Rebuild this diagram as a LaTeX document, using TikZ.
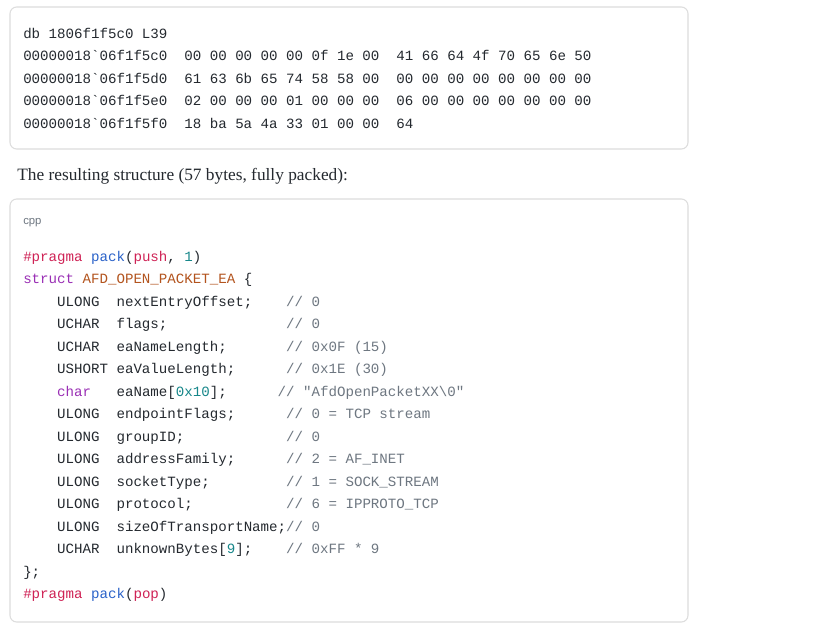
\documentclass[tikz,border=0pt]{standalone}
\usepackage{fontspec}
\setmainfont{Liberation Serif}
\setmonofont{Liberation Mono}
\setsansfont{Liberation Sans}
\definecolor{tx}{HTML}{24292F}
\definecolor{cm}{HTML}{6E7781}
\definecolor{kr}{HTML}{CF2255}
\definecolor{kb}{HTML}{2A62C9}
\definecolor{kt}{HTML}{17878A}
\definecolor{kp}{HTML}{9A2FB5}
\definecolor{ko}{HTML}{B3541E}
\definecolor{bd}{HTML}{DDDDDD}
\newcommand{\R}[1]{\textcolor{kr}{#1}}
\newcommand{\B}[1]{\textcolor{kb}{#1}}
\newcommand{\T}[1]{\textcolor{kt}{#1}}
\newcommand{\Pp}[1]{\textcolor{kp}{#1}}
\newcommand{\Or}[1]{\textcolor{ko}{#1}}
\newcommand{\C}[1]{\textcolor{cm}{#1}}
\begin{document}
\begin{tikzpicture}[x=0.75pt,y=-0.75pt,
  box/.style={draw=bd,line width=0.8pt,rounded corners=5pt,fill=white},
  code/.style={anchor=base west,inner sep=0pt,text=tx,font=\ttfamily\fontsize{10.6pt}{12pt}\selectfont}]
\useasboundingbox (0,0) rectangle (834,633);
\fill[white] (0,0) rectangle (834,633);
\draw[box] (10,7) rectangle (688,149);
\draw[box] (10,199) rectangle (688,622);
\node[code] (h0) at (23,38) {db\ 1806f1f5c0\ L39};
\node[code] (h1) at (23,60.5) {00000018`06f1f5c0\ \ 00\ 00\ 00\ 00\ 00\ 0f\ 1e\ 00\ \ 41\ 66\ 64\ 4f\ 70\ 65\ 6e\ 50};
\node[code] (h2) at (23,83) {00000018`06f1f5d0\ \ 61\ 63\ 6b\ 65\ 74\ 58\ 58\ 00\ \ 00\ 00\ 00\ 00\ 00\ 00\ 00\ 00};
\node[code] (h3) at (23,105.5) {00000018`06f1f5e0\ \ 02\ 00\ 00\ 00\ 01\ 00\ 00\ 00\ \ 06\ 00\ 00\ 00\ 00\ 00\ 00\ 00};
\node[code] (h4) at (23,128) {00000018`06f1f5f0\ \ 18\ ba\ 5a\ 4a\ 33\ 01\ 00\ 00\ \ 64};
\node[anchor=base west,inner sep=0pt,text=tx,font=\fontsize{13pt}{15pt}\selectfont] (cap) at (17,180) {The resulting structure (57 bytes, fully packed):};
\node[anchor=base west,inner sep=0pt,text=cm,font=\sffamily\fontsize{8.5pt}{10pt}\selectfont] (lang) at (23,224) {cpp};
\node[code] (c1) at (23,261) {\R{\#pragma}\ \B{pack}(\R{push},\ \T{1})};
\node[code] (c2) at (23,283.5) {\Pp{struct}\ \Or{AFD\_OPEN\_PACKET\_EA}\ \{};
\node[code] (c3) at (23,306) {\ \ \ \ ULONG\ \ nextEntryOffset;\ \ \ \ \C{//\ 0}};
\node[code] (c4) at (23,328.5) {\ \ \ \ UCHAR\ \ flags;\ \ \ \ \ \ \ \ \ \ \ \ \ \ \C{//\ 0}};
\node[code] (c5) at (23,351) {\ \ \ \ UCHAR\ \ eaNameLength;\ \ \ \ \ \ \ \C{//\ 0x0F\ (15)}};
\node[code] (c6) at (23,373.5) {\ \ \ \ USHORT\ eaValueLength;\ \ \ \ \ \ \C{//\ 0x1E\ (30)}};
\node[code] (c7) at (23,396) {\ \ \ \ \Pp{char}\ \ \ eaName[\T{0x10}];\ \ \ \ \ \ \C{//\ "AfdOpenPacketXX\textbackslash 0"}};
\node[code] (c8) at (23,418.5) {\ \ \ \ ULONG\ \ endpointFlags;\ \ \ \ \ \ \C{//\ 0\ =\ TCP\ stream}};
\node[code] (c9) at (23,441) {\ \ \ \ ULONG\ \ groupID;\ \ \ \ \ \ \ \ \ \ \ \ \C{//\ 0}};
\node[code] (c10) at (23,463.5) {\ \ \ \ ULONG\ \ addressFamily;\ \ \ \ \ \ \C{//\ 2\ =\ AF\_INET}};
\node[code] (c11) at (23,486) {\ \ \ \ ULONG\ \ socketType;\ \ \ \ \ \ \ \ \ \C{//\ 1\ =\ SOCK\_STREAM}};
\node[code] (c12) at (23,508.5) {\ \ \ \ ULONG\ \ protocol;\ \ \ \ \ \ \ \ \ \ \ \C{//\ 6\ =\ IPPROTO\_TCP}};
\node[code] (c13) at (23,531) {\ \ \ \ ULONG\ \ sizeOfTransportName;\C{//\ 0}};
\node[code] (c14) at (23,553.5) {\ \ \ \ UCHAR\ \ unknownBytes[\T{9}];\ \ \ \ \C{//\ 0xFF\ *\ 9}};
\node[code] (c15) at (23,576) {\};};
\node[code] (c16) at (23,598.5) {\R{\#pragma}\ \B{pack}(\R{pop})};
\end{tikzpicture}
\end{document}
